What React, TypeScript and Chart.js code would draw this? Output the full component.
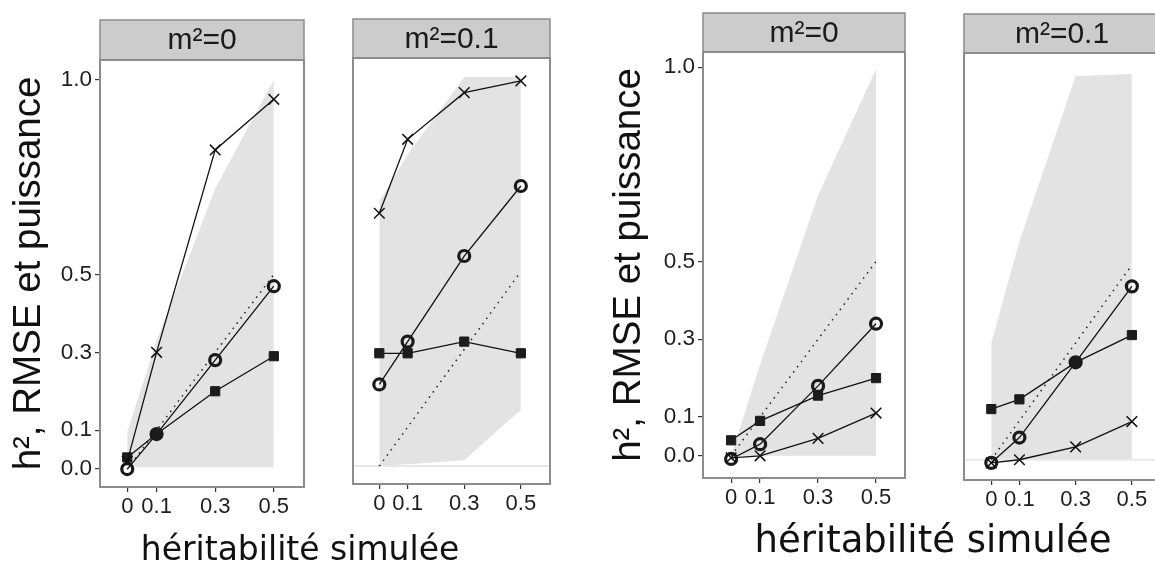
import React, { useEffect, useRef } from 'react';
import { Chart, registerables } from 'chart.js';
Chart.register(...registerables);

// ---------- data ----------
const simulatedH2 = [0, 0.1, 0.3, 0.5];
const xTickValues = [0, 0.1, 0.3, 0.5];
const yTickValues = [0, 0.1, 0.3, 0.5, 1.0];
const identityLine = [0, 0.5];
const zeroLineX = [-0.2, 0.7];
const zeroLineY = [0, 0];

const stripLabels = ['m²=0', 'm²=0.1'];
const yTitle = 'h², RMSE et puissance';
const xTitle = 'héritabilité simulée';

// Figure A, m²=0
const aM0Power = [0.02, 0.30, 0.82, 0.95];
const aM0H2 = [0.0, 0.09, 0.28, 0.47];
const aM0Rmse = [0.03, 0.09, 0.20, 0.29];
const aM0BandHi = [0.095, 0.33, 0.72, 1.0];
const aM0BandLo = [0.005, 0.005, 0.005, 0.005];

// Figure A, m²=0.1
const aM1Power = [0.65, 0.84, 0.96, 0.99];
const aM1H2 = [0.21, 0.32, 0.54, 0.72];
const aM1Rmse = [0.29, 0.29, 0.32, 0.29];
const aM1BandHi = [0.68, 0.80, 1.0, 1.0];
const aM1BandLo = [0.0, 0.005, 0.015, 0.145];

// Figure B, m²=0
const bM0Power = [-0.005, 0.0, 0.045, 0.11];
const bM0H2 = [-0.008, 0.03, 0.18, 0.34];
const bM0Rmse = [0.04, 0.09, 0.155, 0.20];
const bM0BandHi = [0.0, 0.235, 0.67, 0.995];
const bM0BandLo = [0.0, 0.0, 0.0, 0.0];

// Figure B, m²=0.1
const bM1Power = [-0.008, 0.0, 0.033, 0.098];
const bM1H2 = [-0.008, 0.057, 0.25, 0.445];
const bM1Rmse = [0.13, 0.155, 0.25, 0.32];
const bM1BandHi = [0.30, 0.56, 0.985, 0.99];
const bM1BandLo = [0.0, 0.0, 0.0, 0.0];

// ---------- layout ----------
const W = 1155;
const H = 568;
const TICK_FONT = "'Liberation Sans', Arial, sans-serif";

type Facet = {
  power: number[]; h2: number[]; rmse: number[]; hi: number[]; lo: number[];
  strip: string; zeroLine: boolean; yAxis: boolean;
  left: number; width: number; axisW: number; padL: number;
  stripTop: number; top: number; bottom: number;
  xMin: number; xMax: number; yMin: number; yMax: number;
};

const facets: Facet[] = [
  { power: aM0Power, h2: aM0H2, rmse: aM0Rmse, hi: aM0BandHi, lo: aM0BandLo, strip: stripLabels[0], zeroLine: false, yAxis: true,
    left: 0, width: 313, axisW: 100, padL: 0, stripTop: 20, top: 60, bottom: 487, xMin: -0.093, xMax: 0.603, yMin: -0.046, yMax: 1.051 },
  { power: aM1Power, h2: aM1H2, rmse: aM1Rmse, hi: aM1BandHi, lo: aM1BandLo, strip: stripLabels[1], zeroLine: true, yAxis: false,
    left: 344, width: 215, axisW: 0, padL: 2, stripTop: 19, top: 58, bottom: 484, xMin: -0.093, xMax: 0.603, yMin: -0.046, yMax: 1.049 },
  { power: bM0Power, h2: bM0H2, rmse: bM0Rmse, hi: bM0BandHi, lo: bM0BandLo, strip: stripLabels[0], zeroLine: false, yAxis: true,
    left: 600, width: 314, axisW: 103, padL: 0, stripTop: 13, top: 52, bottom: 478, xMin: -0.097, xMax: 0.6, yMin: -0.057, yMax: 1.039 },
  { power: bM1Power, h2: bM1H2, rmse: bM1Rmse, hi: bM1BandHi, lo: bM1BandLo, strip: stripLabels[1], zeroLine: true, yAxis: false,
    left: 955, width: 214, axisW: 0, padL: 2, stripTop: 14, top: 53, bottom: 480, xMin: -0.097, xMax: 0.6, yMin: -0.052, yMax: 1.044 },
];

const facetDecor = {
  id: 'facetDecor',
  beforeDraw(chart: any, _args: any, opts: any) {
    const { ctx, chartArea } = chart;
    const { left, right, top } = chartArea;
    ctx.save();
    ctx.fillStyle = '#cccccc';
    ctx.fillRect(left, opts.stripTop, right - left, top - opts.stripTop);
    ctx.strokeStyle = '#8c8c8c';
    ctx.lineWidth = 1.5;
    ctx.strokeRect(left, opts.stripTop, right - left, top - opts.stripTop);
    ctx.fillStyle = '#1a1a1a';
    ctx.font = `30px ${TICK_FONT}`;
    ctx.textAlign = 'center';
    ctx.textBaseline = 'alphabetic';
    ctx.fillText(opts.text, (left + right) / 2, opts.stripTop + 29);
    ctx.restore();
  },
  afterDatasetsDraw(chart: any) {
    const { ctx, chartArea } = chart;
    ctx.save();
    ctx.strokeStyle = '#8c8c8c';
    ctx.lineWidth = 2;
    ctx.strokeRect(chartArea.left, chartArea.top, chartArea.right - chartArea.left, chartArea.bottom - chartArea.top);
    ctx.restore();
  },
};

function pts(ys: number[]) {
  return simulatedH2.map((x, i) => ({ x, y: ys[i] }));
}

function FacetChart({ f }: { f: Facet }) {
  const ref = useRef<HTMLCanvasElement>(null);
  useEffect(() => {
    if (!ref.current) return;
    const datasets: any[] = [
      { label: 'puissance', data: pts(f.power), showLine: true, borderColor: '#111', borderWidth: 1.3,
        pointStyle: 'crossRot', pointRadius: 7.5, pointBorderWidth: 1.5, pointBorderColor: '#111', pointBackgroundColor: 'rgba(0,0,0,0)', order: 1 },
      { label: 'RMSE', data: pts(f.rmse), showLine: true, borderColor: '#111', borderWidth: 1.3,
        pointStyle: 'rect', pointRadius: 6.5, pointBorderWidth: 1, pointBorderColor: '#1c1c1c', pointBackgroundColor: '#1c1c1c', order: 2 },
      { label: 'h²', data: pts(f.h2), showLine: true, borderColor: '#111', borderWidth: 1.3,
        pointStyle: 'circle', pointRadius: 5.5, pointBorderWidth: 3.2, pointBorderColor: '#1a1a1a', pointBackgroundColor: 'rgba(0,0,0,0)', order: 3 },
      { label: 'ref', data: identityLine.map((v) => ({ x: v, y: v })), showLine: true, borderColor: '#222', borderWidth: 1.5,
        borderDash: [1.5, 5], pointRadius: 0, order: 4 },
    ];
    if (f.zeroLine) {
      datasets.push({ label: 'zero', data: zeroLineX.map((x, i) => ({ x, y: zeroLineY[i] })), showLine: true,
        borderColor: '#e8e8e8', borderWidth: 2, pointRadius: 0, order: 5 });
    }
    datasets.push({ label: 'hi', data: pts(f.hi), showLine: true, borderWidth: 0, borderColor: 'rgba(0,0,0,0)',
      backgroundColor: '#e3e3e3', fill: '+1', pointRadius: 0, order: 6 });
    datasets.push({ label: 'lo', data: pts(f.lo), showLine: true, borderWidth: 0, borderColor: 'rgba(0,0,0,0)',
      fill: false, pointRadius: 0, order: 7 });

    const chart = new Chart(ref.current, {
      type: 'scatter',
      data: { datasets },
      plugins: [facetDecor],
      options: {
        animation: false,
        responsive: false,
        devicePixelRatio: 1,
        events: [],
        layout: { padding: { top: f.top, left: f.padL, right: 3, bottom: 0 } },
        plugins: {
          legend: { display: false },
          tooltip: { enabled: false },
          facetDecor: { stripTop: f.stripTop, text: f.strip },
        } as any,
        scales: {
          x: {
            type: 'linear', min: f.xMin, max: f.xMax,
            afterBuildTicks: (axis: any) => { axis.ticks = xTickValues.map((v) => ({ value: v })); },
            afterFit: (axis: any) => { axis.height = H - f.bottom; },
            ticks: { callback: (v: any) => String(v), font: { family: TICK_FONT, size: 22 }, color: '#1e1e1e', padding: 2, maxRotation: 0, autoSkip: false },
            grid: { drawOnChartArea: false, drawTicks: true, tickLength: 5, color: '#333', lineWidth: 1.2 },
            border: { display: false },
          },
          y: {
            type: 'linear', min: f.yMin, max: f.yMax, display: f.yAxis,
            afterBuildTicks: (axis: any) => { axis.ticks = yTickValues.map((v) => ({ value: v })); },
            afterFit: (axis: any) => { axis.width = f.axisW; },
            ticks: { callback: (v: any) => Number(v).toFixed(1), font: { family: TICK_FONT, size: 22.5 }, color: '#1e1e1e', padding: 3, autoSkip: false },
            grid: { drawOnChartArea: false, drawTicks: true, tickLength: 5, color: '#333', lineWidth: 1.2 },
            border: { display: false },
            title: { display: true, text: yTitle, font: { family: TICK_FONT, size: 38.5 }, color: '#111', padding: { top: 6, bottom: 0 } },
          },
        },
      } as any,
    });
    return () => chart.destroy();
  }, [f]);
  return (
    <canvas ref={ref} width={f.width} height={H}
      style={{ position: 'absolute', left: f.left, top: 0, width: f.width, height: H }} />
  );
}

const xTitles = [
  { center: 300, baseline: 560, size: 33 },
  { center: 933, baseline: 552, size: 37 },
];

export default function App() {
  return (
    <div style={{ position: 'fixed', left: 0, top: 0, width: W, height: H, overflow: 'hidden', background: '#fff' }}>
      {facets.map((f, i) => <FacetChart key={i} f={f} />)}
      {xTitles.map((t, i) => (
        <div key={i} style={{
          position: 'absolute', left: t.center - 300, width: 600, textAlign: 'center',
          top: t.baseline - 0.846 * t.size, fontSize: t.size, lineHeight: `${t.size}px`,
          fontFamily: "'DejaVu Sans', sans-serif", color: '#111', whiteSpace: 'nowrap',
        }}>{xTitle}</div>
      ))}
    </div>
  );
}
